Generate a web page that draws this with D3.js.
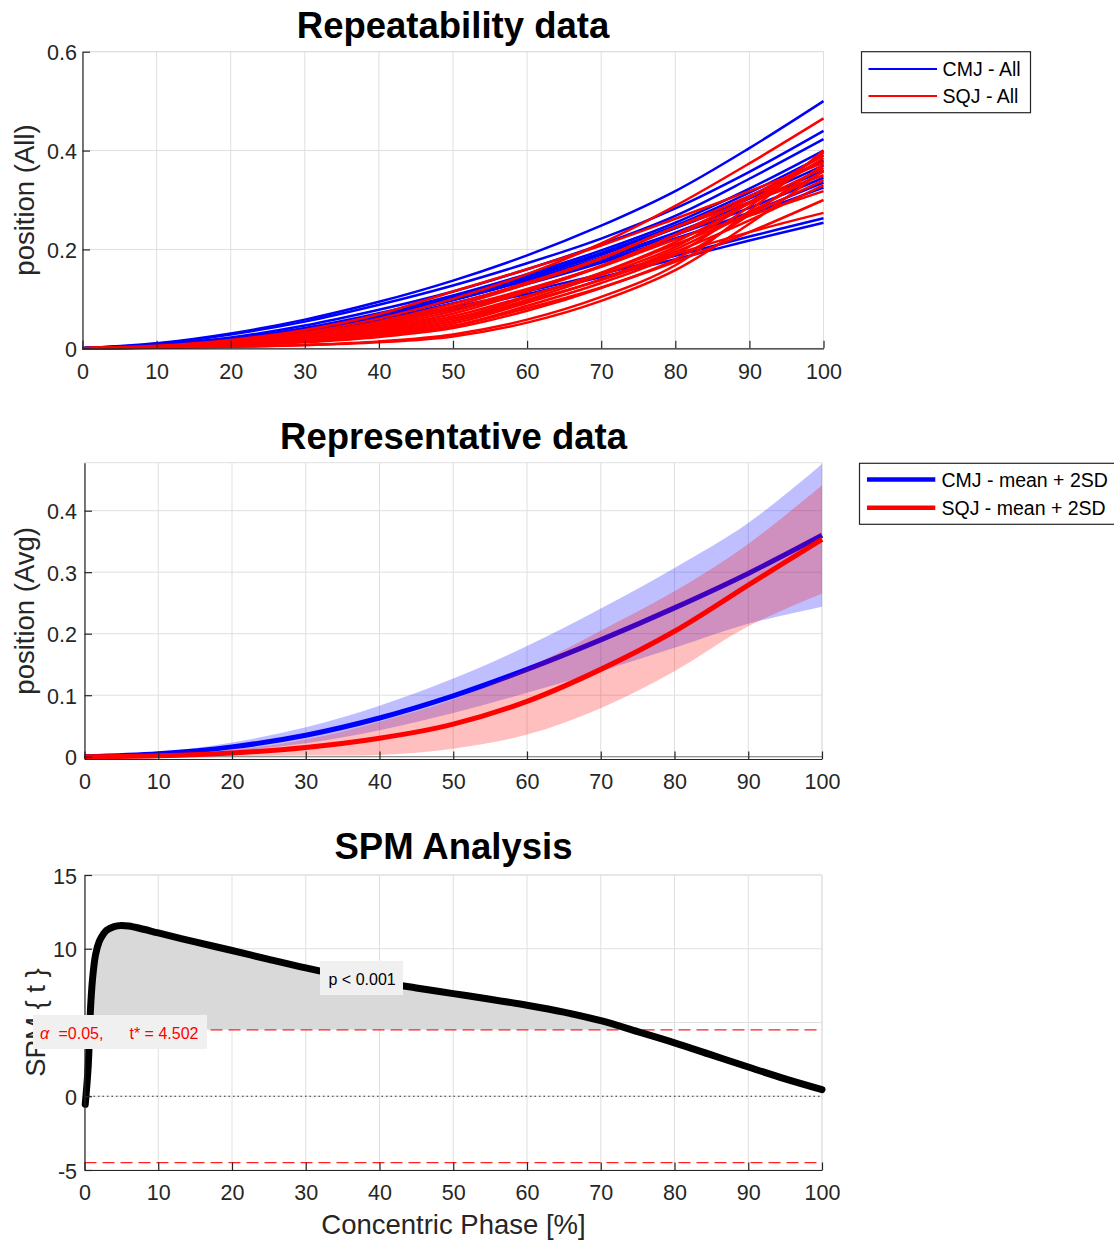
<!DOCTYPE html>
<html>
<head>
<meta charset="utf-8">
<script src="https://cdn.jsdelivr.net/npm/d3@7"></script>
<style>
  body { margin: 0; background: #fff; }
  svg text { font-family: "Liberation Sans", Arial, Helvetica, sans-serif; }
</style>
</head>
<body>
<svg id="fig" width="1114" height="1241"></svg>
<script>
// ---------- data ----------
const phase = [0, 10, 20, 30, 40, 50, 60, 70, 80, 90, 100];

// individual CMJ trials (position vs concentric phase)
const cmjTrials = [
  [0, .010, .030, .058, .094, .137, .188, .248, .318, .405, .500],
  [0, .009, .028, .054, .088, .127, .172, .222, .283, .357, .440],
  [0, .007, .022, .046, .078, .115, .160, .210, .268, .343, .423],
  [0, .006, .019, .041, .071, .107, .150, .198, .254, .323, .400],
  [0, .006, .018, .039, .068, .103, .145, .193, .248, .315, .390],
  [0, .005, .017, .037, .066, .101, .142, .189, .243, .308, .380],
  [0, .006, .018, .039, .068, .104, .146, .192, .243, .303, .370],
  [0, .005, .016, .035, .063, .097, .138, .184, .234, .294, .360],
  [0, .005, .017, .037, .064, .098, .138, .181, .229, .284, .345],
  [0, .005, .015, .033, .059, .091, .130, .173, .221, .275, .335],
  [0, .006, .018, .038, .066, .099, .137, .177, .222, .271, .325],
  [0, .005, .015, .032, .055, .083, .115, .150, .187, .226, .263],
  [0, .005, .014, .030, .052, .079, .110, .144, .180, .218, .254]
];

// individual SQJ trials
const sqjTrials = [
  [0, .003, .013, .032, .060, .100, .150, .212, .288, .374, .465],
  [0, .001, .003, .007, .014, .028, .058, .104, .168, .278, .400],
  [0, .002, .006, .014, .027, .045, .086, .132, .190, .287, .397],
  [0, .003, .010, .022, .042, .070, .115, .166, .230, .305, .390],
  [0, .002, .008, .019, .036, .060, .103, .153, .215, .294, .385],
  [0, .003, .012, .027, .051, .085, .130, .181, .245, .308, .378],
  [0, .0015, .005, .012, .023, .041, .076, .122, .180, .270, .372],
  [0, .003, .011, .024, .045, .075, .118, .167, .228, .293, .365],
  [0, .002, .007, .016, .030, .050, .092, .140, .200, .275, .358],
  [0, .004, .013, .029, .054, .090, .133, .183, .245, .296, .350],
  [0, .003, .009, .021, .039, .065, .106, .152, .210, .271, .340],
  [0, .002, .008, .018, .033, .055, .094, .139, .195, .259, .330],
  [0, .003, .011, .026, .048, .080, .120, .165, .220, .268, .318],
  [0, .002, .006, .014, .027, .045, .081, .123, .175, .235, .300],
  [0, .002, .008, .019, .036, .060, .096, .138, .190, .235, .274],
  [0, .001, .003, .006, .012, .024, .052, .096, .158, .252, .360],
  [0, .002, .008, .018, .033, .055, .098, .148, .205, .295, .395],
  [0, .005, .017, .037, .069, .115, .160, .208, .262, .318, .375]
];

// representative curves: mean and 2SD
const cmjMean = [0, .005, .016, .035, .063, .099, .142, .190, .242, .298, .360];
const cmj2SD  = [0, .002, .007, .013, .020, .028, .038, .051, .065, .082, .116];
const sqjMean = [0, .0015, .006, .015, .030, .053, .090, .142, .204, .279, .3535];
const sqj2SD  = [0, .0015, .005, .013, .027, .040, .054, .063, .065, .067, .088];

// SPM{t} trajectory
const spmPhase = [0.1, 0.5, 0.8, 1.1, 1.5, 2, 2.5, 3, 4, 5, 6, 8, 10, 15, 20, 25, 30, 35, 40, 45, 50, 55, 60, 65, 70, 75, 80, 85, 90, 95, 100];
const spmT     = [-0.55, 2.0, 5.8, 8.0, 9.6, 10.5, 10.95, 11.25, 11.5, 11.58, 11.54, 11.32, 11.07, 10.46, 9.88, 9.28, 8.7, 8.17, 7.73, 7.34, 6.96, 6.58, 6.17, 5.7, 5.12, 4.38, 3.62, 2.8, 1.98, 1.18, 0.45];
const tCrit = 4.502;
const alphaLevel = 0.05;
const pLabel = "p < 0.001";

// ticks
const xTicks = [0, 10, 20, 30, 40, 50, 60, 70, 80, 90, 100];
const yTicksAll = [0, 0.2, 0.4, 0.6];
const yTicksAvg = [0, 0.1, 0.2, 0.3, 0.4];
const yTicksSpm = [-5, 0, 5, 10, 15];

// ---------- drawing ----------
const FONT = '"Liberation Sans", Arial, Helvetica, sans-serif';
const AX = "#262626";
const GRID = "#dfdfdf";
const svg = d3.select("#fig");
const fmt = d => String(+(+d).toFixed(2));
const smooth = d3.curveCatmullRom.alpha(0.5);

function makePanel(cfg) {
  const x = d3.scaleLinear().domain([0, 100]).range([cfg.left, cfg.right]);
  const y = d3.scaleLinear().domain(cfg.yDomain).range([cfg.bottom, cfg.top]);
  const g = svg.append("g");
  const grid = g.append("g").attr("stroke", GRID).attr("stroke-width", 1);
  grid.selectAll("line.gx").data(xTicks).join("line").attr("class", "gx")
    .attr("x1", d => x(d)).attr("x2", d => x(d)).attr("y1", cfg.top).attr("y2", cfg.bottom);
  grid.selectAll("line.gy").data(cfg.yTicks).join("line").attr("class", "gy")
    .attr("x1", cfg.left).attr("x2", cfg.right).attr("y1", d => y(d)).attr("y2", d => y(d));
  grid.append("line").attr("x1", cfg.left).attr("x2", cfg.right).attr("y1", cfg.top).attr("y2", cfg.top);
  grid.append("line").attr("x1", cfg.right).attr("x2", cfg.right).attr("y1", cfg.top).attr("y2", cfg.bottom);
  const data = g.append("g");
  const axes = g.append("g");
  return { x, y, g, data, axes, cfg };
}

function drawAxes(p) {
  const c = p.cfg;
  const xa = p.axes.append("g").attr("transform", `translate(0,${c.bottom})`)
    .call(d3.axisBottom(p.x).tickValues(xTicks).tickSizeInner(-7.5).tickSizeOuter(0).tickPadding(15).tickFormat(fmt))
    .attr("font-family", FONT).attr("font-size", 21.5);
  const ya = p.axes.append("g").attr("transform", `translate(${c.left},0)`)
    .call(d3.axisLeft(p.y).tickValues(c.yTicks).tickSizeInner(-7.5).tickSizeOuter(0).tickPadding(c.left - 77).tickFormat(fmt))
    .attr("font-family", FONT).attr("font-size", 21.5);
  ya.selectAll("text").attr("dy", "0.38em");
  [xa, ya].forEach(a => {
    a.select(".domain").attr("stroke", AX).attr("stroke-width", 1.2);
    a.selectAll(".tick line").attr("stroke", AX).attr("stroke-width", 1.2);
    a.selectAll(".tick text").attr("fill", AX);
  });
}

function title(text, x, y) {
  svg.append("text").attr("x", x).attr("y", y).attr("text-anchor", "middle")
    .attr("font-size", 36.5).attr("font-weight", "bold").attr("fill", "#000").text(text);
}
function yLabel(text, x, y) {
  svg.append("text").attr("transform", `translate(${x},${y}) rotate(-90)`).attr("text-anchor", "middle")
    .attr("font-size", 27.5).attr("fill", AX).text(text);
}

// ===== Panel 1: repeatability data =====
const p1 = makePanel({ left: 82.5, right: 823.5, top: 51.7, bottom: 348.3, yDomain: [0, 0.6], yTicks: yTicksAll });
const trialLine = d3.line().x((d, i) => p1.x(phase[i])).y(d => p1.y(d)).curve(smooth);
p1.data.selectAll("path.cmj").data(cmjTrials).join("path").attr("class", "cmj")
  .attr("d", trialLine).attr("fill", "none").attr("stroke", "#0000ff").attr("stroke-width", 2.5);
p1.data.selectAll("path.sqj").data(sqjTrials).join("path").attr("class", "sqj")
  .attr("d", trialLine).attr("fill", "none").attr("stroke", "#ff0000").attr("stroke-width", 2.5);
drawAxes(p1);
title("Repeatability data", 453, 38);
yLabel("position (All)", 34, (51.7 + 348.3) / 2);

// legend 1
const lg1 = svg.append("g");
lg1.append("rect").attr("x", 861.5).attr("y", 51.7).attr("width", 169).attr("height", 61)
  .attr("fill", "#fff").attr("stroke", AX).attr("stroke-width", 1.2);
[["CMJ - All", "#0000ff", 69, 76], ["SQJ - All", "#ff0000", 96, 103.3]].forEach(([t, c, ly, ty]) => {
  lg1.append("line").attr("x1", 868.5).attr("x2", 937).attr("y1", ly).attr("y2", ly).attr("stroke", c).attr("stroke-width", 2.2);
  lg1.append("text").attr("x", 942.6).attr("y", ty).attr("font-size", 19.5).attr("fill", "#000").text(t);
});

// ===== Panel 2: representative data =====
const p2 = makePanel({ left: 84.5, right: 822, top: 462.7, bottom: 759, yDomain: [-0.0037, 0.478], yTicks: yTicksAvg });
p2.data.append("line").attr("x1", p2.x(0)).attr("x2", p2.x(100)).attr("y1", p2.y(0)).attr("y2", p2.y(0))
  .attr("stroke", "#7a7a7a").attr("stroke-width", 1);
function band(mean, sd) {
  return d3.area().x((d, i) => p2.x(phase[i]))
    .y0((d, i) => p2.y(mean[i] - sd[i])).y1((d, i) => p2.y(mean[i] + sd[i]))
    .curve(smooth)(mean);
}
const meanLine = d3.line().x((d, i) => p2.x(phase[i])).y(d => p2.y(d)).curve(smooth);
p2.data.append("path").attr("d", band(cmjMean, cmj2SD)).attr("fill", "#0000ff").attr("fill-opacity", 0.25);
p2.data.append("path").attr("d", meanLine(cmjMean)).attr("fill", "none").attr("stroke", "#0000ff").attr("stroke-width", 5);
p2.data.append("path").attr("d", band(sqjMean, sqj2SD)).attr("fill", "#ff0000").attr("fill-opacity", 0.25);
p2.data.append("path").attr("d", meanLine(sqjMean)).attr("fill", "none").attr("stroke", "#ff0000").attr("stroke-width", 5);
drawAxes(p2);
title("Representative data", 453.5, 449);
yLabel("position (Avg)", 34, (462.7 + 759) / 2);

// legend 2
const lg2 = svg.append("g");
lg2.append("rect").attr("x", 859.5).attr("y", 463.3).attr("width", 270).attr("height", 61)
  .attr("fill", "#fff").attr("stroke", AX).attr("stroke-width", 1.2);
[["CMJ - mean + 2SD", "#0000ff", 479.5, 486.7], ["SQJ - mean + 2SD", "#ff0000", 507.7, 515]].forEach(([t, c, ly, ty]) => {
  lg2.append("line").attr("x1", 867).attr("x2", 935.3).attr("y1", ly).attr("y2", ly).attr("stroke", c).attr("stroke-width", 4.5);
  lg2.append("text").attr("x", 941.5).attr("y", ty).attr("font-size", 19.5).attr("fill", "#000").text(t);
});

// ===== Panel 3: SPM analysis =====
const p3 = makePanel({ left: 84.5, right: 822, top: 875, bottom: 1170, yDomain: [-5, 15], yTicks: yTicksSpm });
svg.append("defs").append("clipPath").attr("id", "supra")
  .append("rect").attr("x", p3.cfg.left).attr("y", p3.cfg.top)
  .attr("width", p3.cfg.right - p3.cfg.left).attr("height", p3.y(tCrit) - p3.cfg.top);
const spmPts = spmPhase.map((v, i) => [v, spmT[i]]);
p3.data.append("path")
  .attr("d", d3.area().x(d => p3.x(d[0])).y0(p3.y(tCrit)).y1(d => p3.y(d[1])).curve(smooth)(spmPts))
  .attr("fill", "#d9d9d9").attr("clip-path", "url(#supra)");
p3.data.append("line").attr("x1", p3.x(0)).attr("x2", p3.x(100)).attr("y1", p3.y(0)).attr("y2", p3.y(0))
  .attr("stroke", "#333").attr("stroke-width", 1.1).attr("stroke-dasharray", "1.5,3");
[tCrit, -tCrit].forEach(t => {
  p3.data.append("line").attr("x1", p3.x(0)).attr("x2", p3.x(100)).attr("y1", p3.y(t)).attr("y2", p3.y(t))
    .attr("stroke", "#ff2020").attr("stroke-width", 1.2).attr("stroke-dasharray", "12,6");
});
p3.data.append("path")
  .attr("d", d3.line().x(d => p3.x(d[0])).y(d => p3.y(d[1])).curve(smooth)(spmPts))
  .attr("fill", "none").attr("stroke", "#000").attr("stroke-width", 7).attr("stroke-linecap", "round");
drawAxes(p3);
title("SPM Analysis", 453.5, 859);
yLabel("SPM { t }", 45, (875 + 1170) / 2);
svg.append("text").attr("x", 453.5).attr("y", 1234).attr("text-anchor", "middle")
  .attr("font-size", 27.5).attr("fill", AX).text("Concentric Phase [%]");

// annotations
const pBox = svg.append("g");
pBox.append("rect").attr("x", 320).attr("y", 961).attr("width", 83).attr("height", 34).attr("fill", "#f0f0f0");
pBox.append("text").attr("x", 328.5).attr("y", 984.5).attr("font-size", 16).attr("fill", "#000").text(pLabel);

const aBox = svg.append("g");
aBox.append("rect").attr("x", 33).attr("y", 1015).attr("width", 174).attr("height", 34).attr("fill", "#f0f0f0");
const aText = aBox.append("text").attr("y", 1039).attr("font-size", 16).attr("fill", "#ff0000");
aText.append("tspan").attr("x", 40).attr("font-style", "italic").attr("font-size", 16).text("α");
aText.append("tspan").attr("x", 58.5).text("=" + alphaLevel.toFixed(2) + ",");
aText.append("tspan").attr("x", 129.5).text("t* = " + tCrit.toFixed(3));
</script>
</body>
</html>
